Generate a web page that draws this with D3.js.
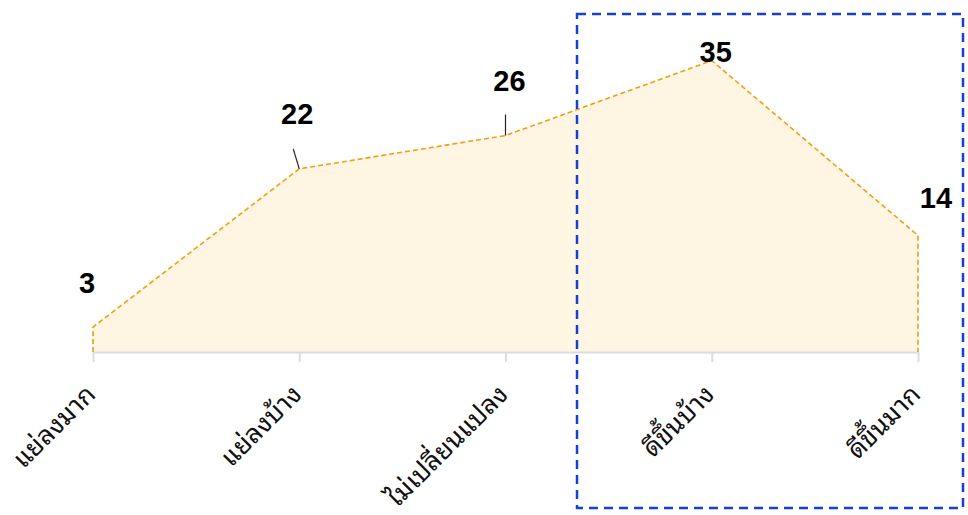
<!DOCTYPE html>
<html lang="th">

<head>
    <meta charset="utf-8" />
    <title>Area chart</title>
    <script src="https://cdn.jsdelivr.net/npm/d3@7"></script>
    <style>
        body { margin: 0; background: #fff; }
        svg { display: block; }
    </style>
</head>

<body>
    <div id='chart'></div>
</body>
<script>

    let categories = ['แย่ลงมาก', 'แย่ลงบ้าง', 'ไม่เปลี่ยนแปลง', 'ดีขึ้นบ้าง', 'ดีขึ้นมาก']
    let values = [3, 22, 26, 35, 14]

    // label nudges (dx, dy from the point) to mimic the reference placement
    let labelShift = [[-6, -44], [-2, -55], [4, -55], [4, -9], [18, -38]]
    // small leader lines from point toward label (null = none)
    let leader = [null, [-6, -20], [0, -21], null, null]

    let width = 968, height = 515;
    let margin = { top: 19, bottom: 163, left: 93, right: 50 };

    let svg = d3.select('#chart')
        .append('svg')
        .attr('width', width)
        .attr('height', height);

    let x = d3.scalePoint()
        .domain(categories)
        .range([margin.left, width - margin.right]);

    let y = d3.scaleLinear()
        .domain([0, 40])
        .range([height - margin.bottom, margin.top]);

    let data = categories.map((c, i) => {
        return { cat: c, value: values[i], i: i }
    })

    // area fill
    let area = d3.area()
        .x(d => x(d.cat))
        .y0(y(0))
        .y1(d => y(d.value));

    svg.append('path')
        .datum(data)
        .attr('d', area)
        .style('fill', '#fef6e3');

    // axis line + ticks
    let xAxis = d3.axisBottom(x)
        .tickSize(10)
        .tickSizeOuter(0)
        .tickFormat('');

    let gx = svg.append('g')
        .attr('class', 'x-axis')
        .attr('transform', 'translate(0,' + y(0) + ')')
        .call(xAxis);
    gx.select('.domain')
        .attr('stroke', '#dcdcdc')
        .attr('stroke-width', 2);
    gx.selectAll('.tick line')
        .attr('stroke', '#dcdcdc')
        .attr('stroke-width', 2);

    // outline of the area (dashed, including the end edges)
    let line = d3.line()
        .x(d => d[0])
        .y(d => d[1]);
    let outline = [[x(categories[0]), y(0)]]
        .concat(data.map(d => [x(d.cat), y(d.value)]))
        .concat([[x(categories[categories.length - 1]), y(0)]]);

    svg.append('path')
        .datum(outline)
        .attr('d', line)
        .style('fill', 'none')
        .style('stroke', '#f59d0e')
        .style('stroke-width', 1.6)
        .style('stroke-dasharray', '5,3');

    // category labels, rotated
    svg.selectAll('.cat-label')
        .data(data)
        .enter().append('text')
        .attr('class', 'cat-label')
        .attr('transform', d => 'translate(' + (x(d.cat) + 4) + ',' + (y(0) + 44) + ') rotate(-45)')
        .attr('text-anchor', 'end')
        .style('font-family', '"Noto Sans Thai Looped", "Noto Sans Thai", "Noto Sans", "Liberation Sans", sans-serif')
        .style('font-size', '26px')
        .style('fill', '#111')
        .text(d => d.cat);

    // leader lines
    svg.selectAll('.leader')
        .data(data.filter(d => leader[d.i]))
        .enter().append('line')
        .attr('class', 'leader')
        .attr('x1', d => x(d.cat))
        .attr('y1', d => y(d.value))
        .attr('x2', d => x(d.cat) + leader[d.i][0])
        .attr('y2', d => y(d.value) + leader[d.i][1])
        .style('stroke', '#222')
        .style('stroke-width', 1.2);

    // value labels
    svg.selectAll('.val-label')
        .data(data)
        .enter().append('text')
        .attr('class', 'val-label')
        .attr('x', d => x(d.cat) + labelShift[d.i][0])
        .attr('y', d => y(d.value) + labelShift[d.i][1])
        .attr('dy', '0.36em')
        .attr('text-anchor', 'middle')
        .style('font-family', '"Liberation Sans", Arial, sans-serif')
        .style('font-weight', 'bold')
        .style('font-size', '29px')
        .style('fill', '#000')
        .text(d => d.value);

    // highlight box around the "better" categories
    svg.append('rect')
        .attr('x', 577)
        .attr('y', 14)
        .attr('width', 386)
        .attr('height', 494)
        .style('fill', 'none')
        .style('stroke', '#1540d0')
        .style('stroke-width', 2.5)
        .style('stroke-dasharray', '9,6');

</script>

</html>
